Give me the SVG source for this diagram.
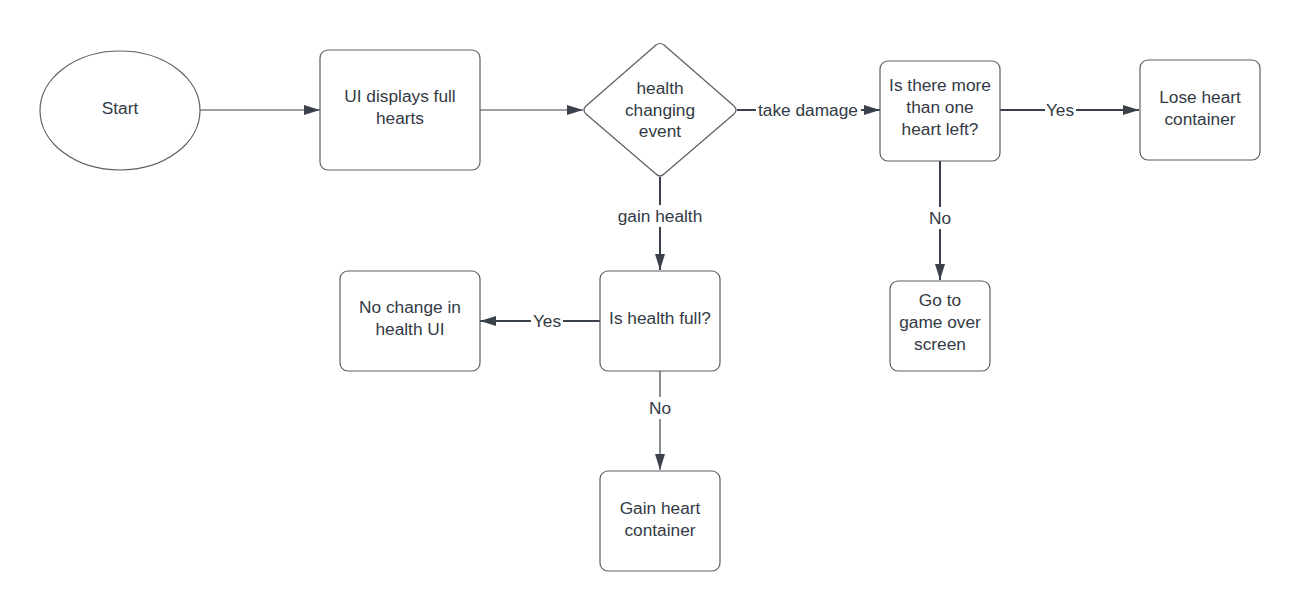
<svg xmlns="http://www.w3.org/2000/svg" width="1300" height="611" viewBox="0 0 1300 611">
  <style>
    .shape { fill: #ffffff; stroke: #5e5e5e; stroke-width: 1.2; }
    .txt { font-family: "Liberation Sans", Arial, sans-serif; font-size: 17.3px; fill: #333a45; text-anchor: middle; }
    .conn { fill: none; stroke: #3a414a; stroke-width: 2; }
    .thin { stroke-width: 1.2; }
    .lblbg { fill: #ffffff; stroke: none; }
  </style>
  <defs>
    <marker id="arrow" markerUnits="userSpaceOnUse" markerWidth="17" markerHeight="11" refX="16" refY="5" orient="auto">
      <path d="M0,0 L16,5 L0,10 Z" fill="#3a414a"/>
    </marker>
  </defs>
  <rect width="1300" height="611" fill="#ffffff"/>

  <g id="connectors">
    <line class="conn thin" x1="200" y1="110" x2="320" y2="110" marker-end="url(#arrow)"/>
    <line class="conn thin" x1="480" y1="110" x2="583" y2="110" marker-end="url(#arrow)"/>
    <line class="conn" x1="737" y1="110" x2="880" y2="110" marker-end="url(#arrow)"/>
    <rect class="lblbg" x="756" y="99" width="105" height="22"/>
    <text class="txt" x="808" y="116">take damage</text>
    <line class="conn" x1="1000" y1="110" x2="1139" y2="110" marker-end="url(#arrow)"/>
    <rect class="lblbg" x="1045" y="99" width="31" height="22"/>
    <text class="txt" x="1060" y="116">Yes</text>
    <line class="conn" x1="940" y1="161" x2="940" y2="280" marker-end="url(#arrow)"/>
    <rect class="lblbg" x="928" y="207" width="24" height="22"/>
    <text class="txt" x="940" y="224">No</text>
    <line class="conn" x1="660" y1="177" x2="660" y2="270" marker-end="url(#arrow)"/>
    <rect class="lblbg" x="612" y="205" width="96" height="22"/>
    <text class="txt" x="660" y="222">gain health</text>
    <line class="conn" x1="600" y1="321" x2="480" y2="321" marker-end="url(#arrow)"/>
    <rect class="lblbg" x="531" y="310" width="32" height="22"/>
    <text class="txt" x="547" y="327">Yes</text>
    <line class="conn thin" x1="660" y1="371" x2="660" y2="470" marker-end="url(#arrow)"/>
    <rect class="lblbg" x="648" y="397" width="24" height="22"/>
    <text class="txt" x="660" y="414">No</text>
  </g>

  <g id="start">
    <ellipse class="shape" cx="120" cy="110.5" rx="80" ry="59.5"/>
    <text class="txt" x="120" y="114">Start</text>
  </g>

  <g id="ui-displays">
    <rect class="shape" x="320" y="50" width="160" height="120" rx="8"/>
    <text class="txt" x="400" y="102">UI displays full</text>
    <text class="txt" x="400" y="123.5">hearts</text>
  </g>

  <g id="health-event">
    <path class="shape" d="M656,45 Q660,42 664,45 L734,106 Q738,110 734,114 L664,174 Q660,178 656,174 L586,114 Q582,110 586,106 Z"/>
    <text class="txt" x="660" y="94">health</text>
    <text class="txt" x="660" y="115.5">changing</text>
    <text class="txt" x="660" y="137">event</text>
  </g>

  <g id="more-than-one">
    <rect class="shape" x="880" y="61" width="120" height="100" rx="8"/>
    <text class="txt" x="940" y="91">Is there more</text>
    <text class="txt" x="940" y="113">than one</text>
    <text class="txt" x="940" y="135">heart left?</text>
  </g>

  <g id="lose-heart">
    <rect class="shape" x="1140" y="60" width="120" height="100" rx="8"/>
    <text class="txt" x="1200" y="103">Lose heart</text>
    <text class="txt" x="1200" y="124.5">container</text>
  </g>

  <g id="game-over">
    <rect class="shape" x="890" y="281" width="100" height="90" rx="8"/>
    <text class="txt" x="940" y="306">Go to</text>
    <text class="txt" x="940" y="328">game over</text>
    <text class="txt" x="940" y="349.5">screen</text>
  </g>

  <g id="health-full">
    <rect class="shape" x="600" y="271" width="120" height="100" rx="8"/>
    <text class="txt" x="660" y="324">Is health full?</text>
  </g>

  <g id="no-change">
    <rect class="shape" x="340" y="271" width="140" height="100" rx="8"/>
    <text class="txt" x="410" y="313">No change in</text>
    <text class="txt" x="410" y="334.5">health UI</text>
  </g>

  <g id="gain-heart">
    <rect class="shape" x="600" y="471" width="120" height="100" rx="8"/>
    <text class="txt" x="660" y="514">Gain heart</text>
    <text class="txt" x="660" y="535.5">container</text>
  </g>
</svg>
